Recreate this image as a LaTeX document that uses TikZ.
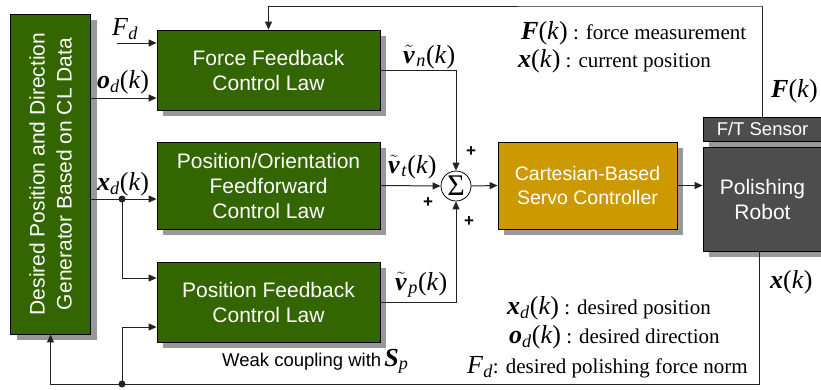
\documentclass[tikz,border=0pt]{standalone}
\usepackage{fontspec}
\setmainfont{Liberation Serif}
\setsansfont{Liberation Sans}
\definecolor{blockgreen}{HTML}{336600}
\definecolor{servogold}{HTML}{CC9900}
\definecolor{robotgray}{HTML}{4D4D4D}
\definecolor{shadowgray}{HTML}{999999}
\definecolor{linegray}{HTML}{222222}
\usetikzlibrary{arrows.meta, positioning, calc}

\newcommand{\bsym}[1]{\textbf{\textit{#1}}}
\newcommand{\lidx}[1]{\textsubscript{\textit{#1}}}
\newcommand{\kk}{(\textit{k})}
\newcommand{\tbv}{$\tilde{\mbox{\bsym{v}}}$\kern1.5pt}

\tikzstyle{block} = [
  rectangle, draw=black, line width=0.8pt,
  fill=blockgreen, text=white, align=center,
  font=\sffamily\fontsize{21}{25}\selectfont,
  minimum width=223pt, minimum height=80pt, inner sep=0pt,
  preaction={draw=none, fill=shadowgray,
             transform canvas={xshift=6pt, yshift=-6pt}}
]
\tikzstyle{servobox} = [
  block, fill=servogold, minimum width=179pt, minimum height=87pt,
  font=\sffamily\fontsize{19.5}{24}\selectfont
]
\tikzstyle{robotbox} = [
  block, fill=robotgray, minimum width=119pt
]
\tikzstyle{arrow} = [
  -{Triangle[length=8pt,width=7pt]}, line width=1pt, color=linegray
]
\tikzstyle{siglabel} = [
  anchor=base west, inner sep=0pt, font=\fontsize{26}{28}\selectfont
]
\tikzstyle{legend} = [
  anchor=base west, inner sep=0pt, font=\fontsize{21}{24}\selectfont
]
\tikzstyle{plus} = [
  inner sep=0pt, font=\sffamily\bfseries\fontsize{17}{17}\selectfont
]

\begin{document}
\begin{tikzpicture}[x=1pt, y=-1pt, >=Stealth]
  \useasboundingbox (0,0) rectangle (821,389);

  % ── Generator ─────────────────────────────────────────
  \node[block, minimum width=80pt, minimum height=320pt]
    (gen) at (50.5,174) {};
  \node[rotate=90, align=center, text=white, inner sep=0pt,
        font=\sffamily\fontsize{21}{27}\selectfont]
    (gentext) at (gen.center) {Desired Position and Direction\\Generator Based on CL Data};

  % ── Control laws ──────────────────────────────────────
  \node[block] (force) at (268.5,70)  {Force Feedback\\Control Law};
  \node[block, minimum height=87pt]
        (posor) at (268.5,185.5) {Position/Orientation\\Feedforward\\Control Law};
  \node[block] (posfb) at (268.5,302) {Position Feedback\\Control Law};

  % ── Summing junction, servo and robot ─────────────────
  \node[circle, draw=black, line width=0.8pt, fill=white,
        minimum size=30pt, inner sep=0pt]
    (sum) at (456,186) {\fontsize{30}{30}\selectfont Σ};
  \node[servobox] (servo) at (587.5,185.5) {Cartesian-Based\\Servo Controller};
  \node[robotbox, minimum height=24pt,
        font=\sffamily\fontsize{18.5}{20}\selectfont]
    (sensor) at (762.5,129) {F/T Sensor};
  \node[robotbox, minimum height=104pt] (robot) at (762.5,199) {Polishing\\Robot};

  % ── Inputs from the generator ─────────────────────────
  \coordinate (fdstart) at (117,43);
  \coordinate (xdsplit) at (122,199);
  \draw[arrow] (fdstart) -- (force.west |- fdstart);
  \draw[arrow] (gen.east |- 0,98) -- (force.west |- 0,98);
  \draw[arrow] (gen.east |- xdsplit) -- (posor.west |- xdsplit);
  \fill[linegray] (xdsplit) circle (3.5pt);
  \draw[arrow] (xdsplit) |- ($(posfb.west)+(0,-24)$);

  % ── Summing ───────────────────────────────────────────
  \draw[arrow] (force.east) -| (sum.north);
  \draw[arrow] (posor.east) -- (sum.west);
  \draw[arrow] (posfb.east) -| (sum.south);
  \draw[arrow] (sum.east) -- (servo.west);
  \draw[arrow] (servo.east) -- (robot.west |- servo.east);

  % ── Feedback loops ────────────────────────────────────
  \coordinate (fbtop) at (762,6);
  \coordinate (fbbot) at (759,384);
  \coordinate (fbsplit) at (122,384);
  \draw[arrow] (sensor.north) |- (fbtop) -| (force.north);
  \draw[arrow] (robot.south -| fbbot) -- (fbbot) -| (gen.south);
  \fill[linegray] (fbsplit) circle (3.5pt);
  \draw[arrow] (fbsplit) |- ($(posfb.west)+(0,25)$);

  % ── Signal labels ─────────────────────────────────────
  \node[siglabel] (lfd) at (112,35)  {\textit{F}\lidx{d}};
  \node[siglabel] (lod) at (97,88)   {\bsym{o}\lidx{d}\kk};
  \node[siglabel] (lxd) at (97,190)  {\bsym{x}\lidx{d}\kk};
  \node[siglabel] (lvn) at (403,63)  {\tbv\lidx{n}\kk};
  \node[siglabel] (lvt) at (388,173) {\tbv\lidx{t}\kk};
  \node[siglabel] (lvp) at (395,290) {\tbv\lidx{p}\kk};
  \node[siglabel] (lfk) at (771,97)  {\bsym{F}\kk};
  \node[siglabel] (lxk) at (770,288) {\bsym{x}\kk};
  \node[plus] (p1) at (471,152) {+};
  \node[plus] (p2) at (428,203) {+};
  \node[plus] (p3) at (469,222) {+};

  % ── Legend ────────────────────────────────────────────
  \node[legend] (legf) at (521,39)  {\fontsize{26}{28}\selectfont\bsym{F}\kk\fontsize{21}{24}\selectfont\ : force measurement};
  \node[legend] (legx) at (518,67)  {\fontsize{26}{28}\selectfont\bsym{x}\kk\fontsize{21}{24}\selectfont\ : current position};
  \node[legend] (legxd) at (507,314) {\fontsize{26}{28}\selectfont\bsym{x}\lidx{d}\kk\fontsize{21}{24}\selectfont\ : desired position};
  \node[legend] (legod) at (509,343) {\fontsize{26}{28}\selectfont\bsym{o}\lidx{d}\kk\fontsize{21}{24}\selectfont\ : desired direction};
  \node[legend] (legfd) at (467,373) {\fontsize{26}{28}\selectfont\textit{F}\lidx{d}\fontsize{21}{24}\selectfont: desired polishing force norm};
  \node[anchor=base west, inner sep=0pt,
        font=\sffamily\fontsize{18.5}{20}\selectfont]
    (weak) at (222,366) {Weak coupling with\,{\rmfamily\fontsize{26}{28}\selectfont\bsym{S}\lidx{p}}};

\end{tikzpicture}
\end{document}
